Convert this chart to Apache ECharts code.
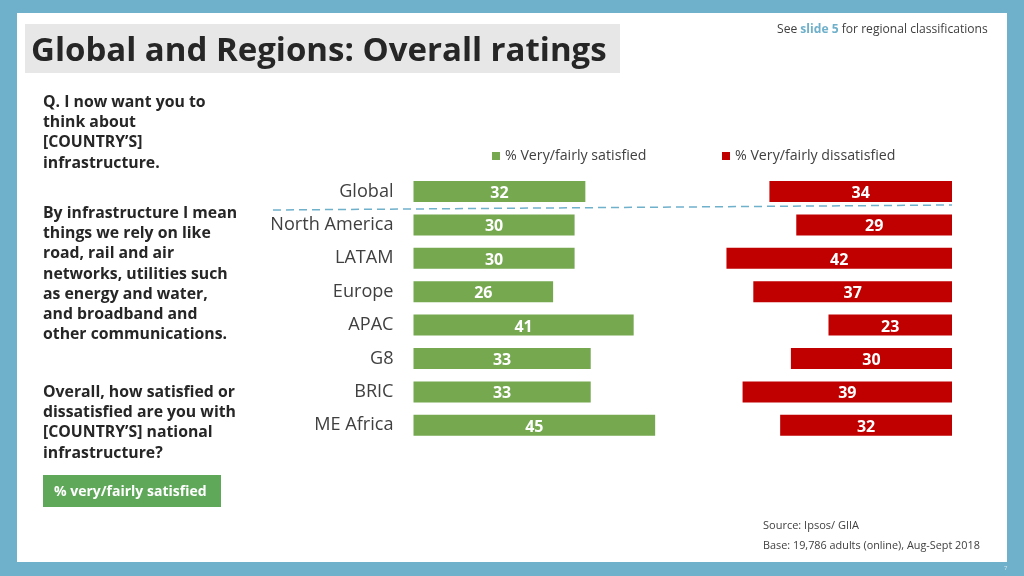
<!DOCTYPE html>
<html>
<head>
<meta charset="utf-8">
<style>
html, body { margin: 0; padding: 0; background: #6fb0cb; }
#chart { width: 1024px; height: 576px; }
</style>
</head>
<body>
<div id="chart"></div>
<script src="https://cdn.jsdelivr.net/npm/echarts@6/dist/echarts.min.js"></script>
<script>
var regions = ['Global', 'North America', 'LATAM', 'Europe', 'APAC', 'G8', 'BRIC', 'ME Africa'];
var satisfied = [32, 30, 30, 26, 41, 33, 33, 45];
var dissatisfied = [34, 29, 42, 37, 23, 30, 39, 32];
var question1 = ['Q. I now want you to', 'think about', '[COUNTRY\u2019S]', 'infrastructure.'];
var question2 = ['By infrastructure I mean', 'things we rely on like', 'road, rail and air', 'networks, utilities such', 'as energy and water,', 'and broadband and', 'other communications.'];
var question3 = ['Overall, how satisfied or', 'dissatisfied are you with', '[COUNTRY\u2019S] national', 'infrastructure?'];

var FONT = '"Open Sans", "Noto Sans", sans-serif';
var myChart = echarts.init(document.getElementById('chart'));

function block(lines, y) {
	return {
		type: 'text',
		left: 43,
		top: y,
		style: {
			text: lines.join('\n'),
			font: 'bold 15.8px ' + FONT,
			lineHeight: 20.3,
			fill: '#262626'
		}
	};
}

var option = {
	backgroundColor: '#6fb0cb',
	animation: false,
	textStyle: { fontFamily: FONT },
	legend: [
		{
			data: ['% Very/fairly satisfied'],
			left: 487,
			top: 144,
			icon: 'rect',
			itemWidth: 8,
			itemHeight: 8,
			itemGap: 5,
			textStyle: { fontSize: 14.2, color: '#404040', fontFamily: FONT }
		},
		{
			data: ['% Very/fairly dissatisfied'],
			left: 717,
			top: 144,
			icon: 'rect',
			itemWidth: 8,
			itemHeight: 8,
			itemGap: 5,
			textStyle: { fontSize: 14.2, color: '#404040', fontFamily: FONT }
		}
	],
	grid: [
		{ left: 413.5, top: 174.8, width: 268.5, height: 267.2 },
		{ left: 683.5, top: 174.8, width: 268.5, height: 267.2 }
	],
	xAxis: [
		{ type: 'value', gridIndex: 0, min: 0, max: 50, show: false },
		{ type: 'value', gridIndex: 1, min: 0, max: 50, inverse: true, show: false }
	],
	yAxis: [
		{
			type: 'category',
			gridIndex: 0,
			data: regions,
			inverse: true,
			axisLine: { show: false },
			axisTick: { show: false },
			axisLabel: { margin: 20, fontSize: 18.1, color: '#404040', fontFamily: FONT, padding: [4, 0, 0, 0] }
		},
		{
			type: 'category',
			gridIndex: 1,
			data: regions,
			inverse: true,
			show: false
		}
	],
	series: [
		{
			name: '% Very/fairly satisfied',
			type: 'bar',
			xAxisIndex: 0,
			yAxisIndex: 0,
			data: satisfied,
			barWidth: 21,
			itemStyle: { color: '#75a84f' },
			label: { show: true, position: 'inside', offset: [0, 2], color: '#fff', fontWeight: 'bold', fontSize: 16, fontFamily: FONT }
		},
		{
			name: '% Very/fairly dissatisfied',
			type: 'bar',
			xAxisIndex: 1,
			yAxisIndex: 1,
			data: dissatisfied,
			barWidth: 21,
			itemStyle: { color: '#c00000' },
			label: { show: true, position: 'inside', offset: [0, 2], color: '#fff', fontWeight: 'bold', fontSize: 16, fontFamily: FONT }
		}
	],
	graphic: [
		// slide panel and title strip
		{ type: 'rect', z: -10, shape: { x: 17, y: 13, width: 990, height: 549 }, style: { fill: '#fff' } },
		{ type: 'rect', z: -9, shape: { x: 25, y: 24, width: 595, height: 49 }, style: { fill: '#e7e7e7' } },
		{
			type: 'text',
			left: 31,
			top: 35,
			style: { text: 'Global and Regions: Overall ratings', font: 'bold 33px ' + FONT, fill: '#262626' }
		},
		{
			type: 'text',
			left: 777,
			top: 24,
			style: {
				text: 'See {b|slide 5} for regional classifications',
				font: '12.1px ' + FONT,
				fill: '#404040',
				rich: { b: { font: 'bold 12.1px ' + FONT, fill: '#6fb0cb' } }
			}
		},
		block(question1, 92),
		block(question2, 203),
		block(question3, 382),
		{ type: 'rect', shape: { x: 43, y: 475, width: 178, height: 32 }, style: { fill: '#5fa85a' } },
		{
			type: 'text',
			left: 54,
			top: 485,
			style: { text: '% very/fairly satisfied', font: 'bold 14px ' + FONT, fill: '#fff' }
		},
		// divider under Global
		{
			type: 'line',
			shape: { x1: 273, y1: 210, x2: 952, y2: 205 },
			style: { stroke: '#6fb0cb', lineWidth: 1.5, lineDash: [8, 5] },
			z: 10
		},
		{
			type: 'text',
			left: 763,
			top: 520,
			style: { text: 'Source: Ipsos/ GIIA', font: '11px ' + FONT, fill: '#404040' }
		},
		{
			type: 'text',
			left: 763,
			top: 540,
			style: { text: 'Base: 19,786 adults (online), Aug-Sept 2018', font: '10.85px ' + FONT, fill: '#404040' }
		},
		{
			type: 'text',
			left: 1004,
			top: 565,
			style: { text: '7', font: '6px ' + FONT, fill: '#d5e8f0' }
		}
	]
};
myChart.setOption(option);
</script>
</body>
</html>
